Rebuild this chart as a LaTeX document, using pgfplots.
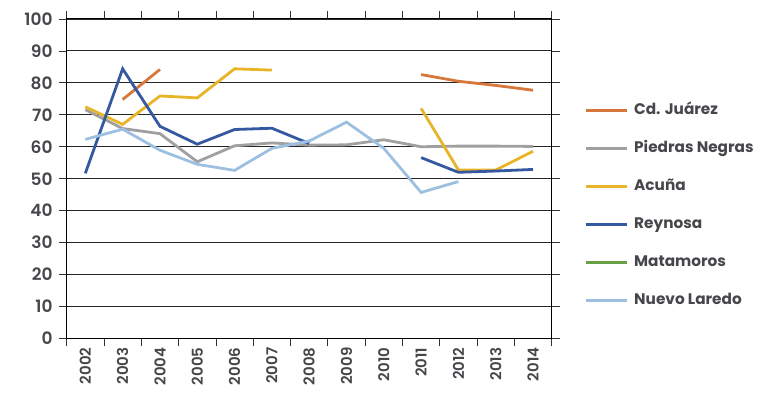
\documentclass[border=0pt]{standalone}
\usepackage{pgfplots}
\pgfplotsset{compat=1.18}
\usepackage{fontspec}
\setmainfont{Poppins SemiBold}
\newfontfamily\legfont{Poppins Bold}
\definecolor{juarez}{RGB}{214,120,60}
\definecolor{piedras}{RGB}{160,160,160}
\definecolor{acuna}{RGB}{232,180,40}
\definecolor{reynosa}{RGB}{53,89,160}
\definecolor{matamoros}{RGB}{105,160,70}
\definecolor{laredo}{RGB}{157,192,225}
\definecolor{txt}{RGB}{70,70,75}
\begin{document}
\begin{tikzpicture}
\begin{axis}[
  scale only axis,
  width=485pt, height=319.4pt,
  xmin=-0.5, xmax=12.5, ymin=0, ymax=100,
  xtick={0,...,12},
  xticklabels={2002,2003,2004,2005,2006,2007,2008,2009,2010,2011,2012,2013,2014},
  minor xtick={-0.5,0.5,...,12.5},
  ytick={0,10,...,100},
  tick align=outside,
  major x tick style={draw=none},
  major tick length=8pt, minor tick length=8pt,
  tick style={black!80, line width=0.8pt},
  ymajorgrids, major grid style={black!85, line width=0.9pt},
  axis line style={black, line width=1pt},
  x tick label style={rotate=90, anchor=east, font=\fontsize{15}{18}\selectfont, text=txt, inner sep=1pt},
  y tick label style={font=\fontsize{17}{20}\selectfont, text=txt, inner sep=0pt, xshift=-6pt},
  /pgf/number format/assume math mode=true,
  unbounded coords=jump,
  every axis plot/.append style={line width=2.8pt, no marks},
  legend image code/.code={\draw[#1] (0pt,0pt) -- (41pt,0pt);},
  legend style={at={(1.067,0.7397)}, anchor=north west, draw=none, fill=none,
    inner sep=0pt, row sep=22pt,
    nodes={inner sep=0pt, text height=12pt, text depth=4pt, font=\legfont\fontsize{15.3}{18}\selectfont, text=txt},
    /tikz/every odd column/.append style={column sep=6pt}},
  legend cell align=left,
  clip=false,
]
\addplot[juarez] coordinates {(1,74.8)(2,84.2)(3,nan)(8,nan)(9,82.6)(10,80.5)(11,79.2)(12,77.7)};
\addlegendentry{Cd. Juárez}
\addplot[piedras] coordinates {(0,71.6)(1,65.7)(2,64.1)(3,55.3)(4,60.3)(5,61.2)(6,60.5)(7,60.6)(8,62.2)(9,60.0)(10,60.2)(11,60.2)(12,60.1)};
\addlegendentry{Piedras Negras}
\addplot[acuna] coordinates {(0,72.5)(1,67.0)(2,75.9)(3,75.3)(4,84.4)(5,84.0)(6,nan)(8,nan)(9,72.0)(10,52.7)(11,52.7)(12,58.6)};
\addlegendentry{Acuña}
\addplot[reynosa] coordinates {(0,51.7)(1,84.4)(2,66.4)(3,60.8)(4,65.4)(5,65.8)(6,61.0)(7,nan)(8,nan)(9,56.6)(10,52.0)(11,52.4)(12,52.9)};
\addlegendentry{Reynosa}
\addlegendimage{matamoros}
\addlegendentry{Matamoros}
\addplot[laredo] coordinates {(0,62.3)(1,65.5)(2,58.9)(3,54.5)(4,52.6)(5,59.5)(6,61.8)(7,67.7)(8,59.5)(9,45.7)(10,49.1)};
\addlegendentry{Nuevo Laredo}
\end{axis}
\pgfresetboundingbox
\path[use as bounding box] (current axis.south west) ++(-66.7pt,-56.6pt) rectangle ++(780pt,395pt);
\end{tikzpicture}
\end{document}
